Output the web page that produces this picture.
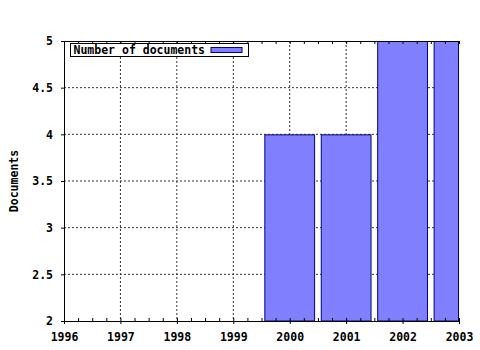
<!DOCTYPE html>
<html>
<head>
<meta charset="utf-8">
<script src="https://cdn.jsdelivr.net/npm/d3@7"></script>
<style>
    body { margin: 0; background: #fff; }
    text { font-family: 'DejaVu Sans Mono', monospace; font-weight: bold; font-size: 11.5px; }
</style>
</head>
<body>
<svg width="480" height="350"></svg>
<script>
const {
    select,
    scaleLinear,
    axisLeft,
    axisBottom,
    axisTop,
    range,
} = d3;

// data
const years = [2000, 2001, 2002, 2003];
const documents = [4, 4, 5, 5];
const yearTicks = [1996, 1997, 1998, 1999, 2000, 2001, 2002, 2003];
const docTicks = [2, 2.5, 3, 3.5, 4, 4.5, 5];
const seriesName = 'Number of documents';

const svg = select('svg');
const margin = { left: 64, top: 41, right: 21, bottom: 29 };
const width = +svg.attr('width') - margin.left - margin.right;
const height = +svg.attr('height') - margin.top - margin.bottom;

const xScale = scaleLinear().domain([1996, 2003]).range([0, width]);
const yScale = scaleLinear().domain([2, 5]).range([height, 0]);

const g = svg
    .append('g')
    .attr('transform', `translate(${margin.left},${margin.top})`);

// dotted grid
g.append('g')
    .selectAll('line')
    .data(yearTicks.slice(1, -1))
    .join('line')
    .attr('x1', (d) => xScale(d))
    .attr('x2', (d) => xScale(d))
    .attr('y1', 0)
    .attr('y2', height)
    .attr('stroke', '#333')
    .attr('stroke-dasharray', '2,2');

g.append('g')
    .selectAll('line')
    .data(docTicks.slice(1, -1))
    .join('line')
    .attr('x1', 0)
    .attr('x2', width)
    .attr('y1', (d) => yScale(d))
    .attr('y2', (d) => yScale(d))
    .attr('stroke', '#333')
    .attr('stroke-dasharray', '2,2');

// bars, 0.9 of a year wide, cut at the plot edge
const barW = (xScale(1) - xScale(0)) * 0.9;
g.append('g')
    .selectAll('rect')
    .data(years.map((y, i) => ({ year: y, value: documents[i] })))
    .join('rect')
    .attr('x', (d) => xScale(d.year) - barW / 2 + 0.5)
    .attr('y', (d) => yScale(d.value) + 0.5)
    .attr('width', (d) =>
        Math.min(xScale(d.year) + barW / 2, width) - (xScale(d.year) - barW / 2) - 1
    )
    .attr('height', (d) => yScale(2) - yScale(d.value) - 0.5)
    .attr('fill', '#8080ff')
    .attr('stroke', '#000080');

// minor quarter-year ticks
const quarters = range(1996, 2003.01, 0.25);

const styleAxis = (sel) => {
    sel.select('.domain').attr('stroke', '#000');
    sel.selectAll('.tick line').attr('stroke', '#000');
};

g.append('g')
    .attr('transform', `translate(0,${height})`)
    .call(axisBottom(xScale).tickValues(quarters).tickSize(-3).tickSizeOuter(0).tickFormat(''))
    .call(styleAxis);

g.append('g')
    .attr('transform', `translate(0,${height})`)
    .call(axisBottom(xScale).tickValues(yearTicks).tickSize(3).tickSizeOuter(0).tickFormat(d3.format('d')))
    .call(styleAxis)
    .call((a) => a.select('.domain').remove())
    .call((a) =>
        a.selectAll('text')
            .attr('y', 0)
            .attr('dy', 20)
            .attr('fill', '#000')
            .attr('font-size', null)
            .attr('font-family', null)
    );

g.append('g')
    .call(axisTop(xScale).tickValues(quarters).tickSize(-3).tickSizeOuter(0).tickFormat(''))
    .call(styleAxis);

g.append('g')
    .call(axisLeft(yScale).tickValues(docTicks).tickSize(3).tickSizeOuter(0).tickPadding(8).tickFormat((d) => d))
    .call(styleAxis)
    .call((a) =>
        a.selectAll('text')
            .attr('fill', '#000')
            .attr('font-size', null)
            .attr('font-family', null)
    );

// y title
svg.append('text')
    .attr('transform', `translate(18,${margin.top + height / 2}) rotate(-90)`)
    .attr('text-anchor', 'middle')
    .text('Documents');

// legend
const legend = svg.append('g').attr('transform', 'translate(70.5,43.5)');
legend.append('rect')
    .attr('width', 178)
    .attr('height', 13)
    .attr('fill', '#fff')
    .attr('stroke', '#000');
legend.append('text')
    .attr('x', 3)
    .attr('y', 10.5)
    .text(seriesName);
legend.append('rect')
    .attr('x', 140.5)
    .attr('y', 4)
    .attr('width', 31)
    .attr('height', 5)
    .attr('fill', '#8080ff')
    .attr('stroke', '#000080');
</script>
</body>
</html>
